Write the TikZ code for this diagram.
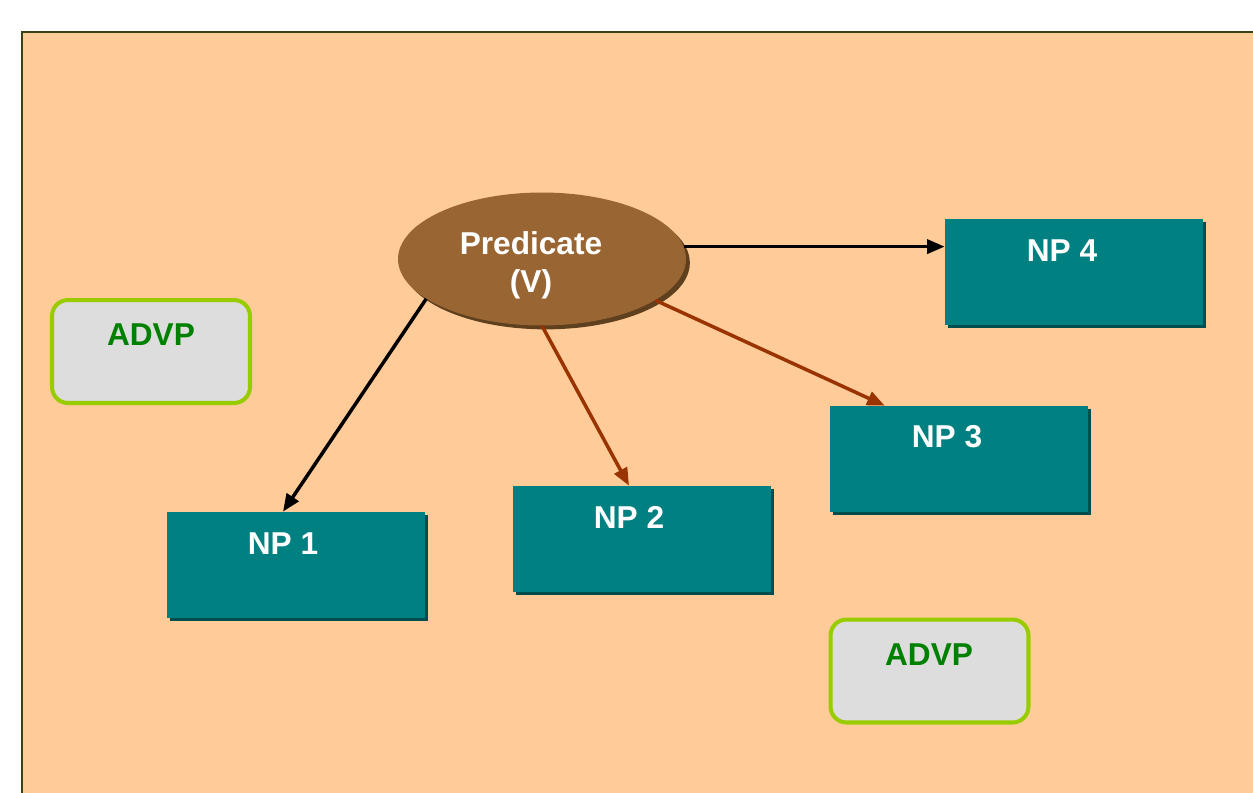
\documentclass[tikz,border=0pt]{standalone}
\usepackage{fontspec}
\setmainfont{Liberation Sans}
\usetikzlibrary{shapes.geometric, shadows, arrows.meta, calc}

\definecolor{peach}{HTML}{FFCC99}
\definecolor{frameline}{HTML}{3A4214}
\definecolor{npfill}{HTML}{008080}
\definecolor{npshade}{HTML}{004D4D}
\definecolor{predfill}{HTML}{996633}
\definecolor{predshade}{HTML}{5E3F1E}
\definecolor{arrbrown}{HTML}{993300}
\definecolor{advpline}{HTML}{99CC00}
\definecolor{advpfill}{HTML}{DDDDDD}
\definecolor{advptext}{HTML}{008000}

\begin{document}
\begin{tikzpicture}[x=0.02cm, y=-0.02cm,
    font=\bfseries\fontsize{18}{21.6}\selectfont,
    npbox/.style={rectangle, fill=npfill, minimum width=5.16cm, minimum height=2.12cm,
      drop shadow={shadow xshift=1.7pt, shadow yshift=-1.7pt, fill=npshade, opacity=1}},
    advpbox/.style={rectangle, rounded corners=0.32cm, draw=advpline, line width=2.3pt,
      fill=advpfill, minimum width=3.96cm, minimum height=2.06cm},
    tip/.style={-{Triangle[length=10pt, width=8pt]}, line width=2pt}]

  \clip (0,0) rectangle (1253,792);
  \fill[white] (0,0) rectangle (1253,792);
  \draw[frameline, fill=peach, line width=1.3pt] (22,32) rectangle (1275,815);

  \node (P) [ellipse, fill=predfill, minimum width=5.76cm, minimum height=2.66cm,
    drop shadow={shadow xshift=2.2pt, shadow yshift=-2.2pt, fill=predshade, opacity=1}] at (542,259) {};
  \node (Pt) [white, align=center] at (531,265) {Predicate\\(V)};

  \node (np1) [npbox] at (296,565) {};
  \node (np2) [npbox] at (642,539) {};
  \node (np3) [npbox] at (959,459) {};
  \node (np4) [npbox] at (1074,272) {};
  \begin{scope}[every node/.style={white}]
    \node (np1t) at (283,544) {NP 1};
    \node (np2t) at (629,517) {NP 2};
    \node (np3t) at (947,437) {NP 3};
    \node (np4t) at (1062,251) {NP 4};
  \end{scope}

  \node (adv1) [advpbox] at (151,351.5) {};
  \node (adv2) [advpbox] at (929.5,671) {};
  \node (adv1t) [advptext] at (151,335) {ADVP};
  \node (adv2t) [advptext] at (929,655) {ADVP};

  \draw[tip] (P.5) -- (P.5 -| np4.west);
  \draw[tip] (P.199) -- (np1t |- np1.north);
  \draw[tip, arrbrown] (P.270) -- (np2t |- np2.north);
  \draw[tip, arrbrown] (P.340) -- ($(np3.north west)+(55,0)$);
\end{tikzpicture}
\end{document}
